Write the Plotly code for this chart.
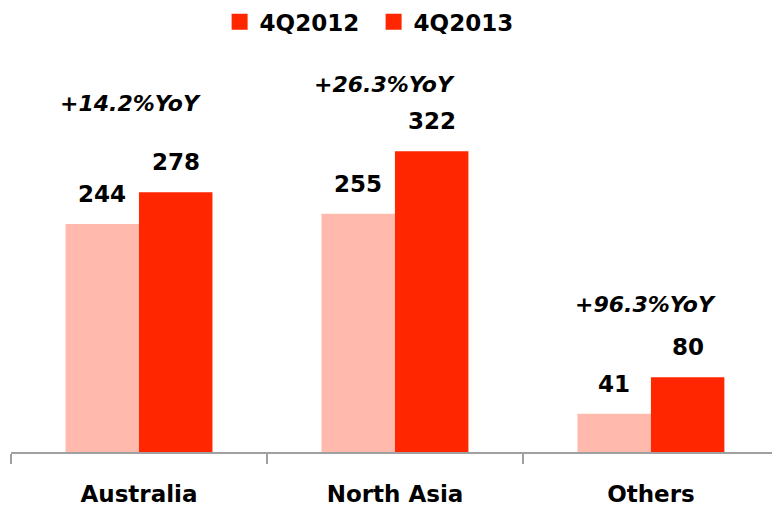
import plotly.graph_objects as go

regions = ["Australia", "North Asia", "Others"]
q2012 = [244, 255, 41]
q2013 = [278, 322, 80]
yoy_labels = ["+14.2%YoY", "+26.3%YoY", "+96.3%YoY"]
yoy_x = [-0.035, 0.96, 1.977]
yoy_y = [373, 394, 158]

PINK = "#FFBAAD"
RED = "#FF2600"
FONT = "DejaVu Sans"
BAR_HALF = 36.75  # pixel offset from category centre to each bar centre

fig = go.Figure()
fig.add_trace(go.Bar(x=regions, y=q2012, name="4Q2012", marker_color=PINK,
                     marker_line_width=0, showlegend=False))
fig.add_trace(go.Bar(x=regions, y=q2013, name="4Q2013", marker_color=RED,
                     marker_line_width=0, showlegend=False))

# legend entries, both drawn with the solid red swatch
for name in ["4Q2012", "4Q2013"]:
    fig.add_trace(go.Scatter(
        x=[None], y=[None], name=name, mode="markers",
        marker=dict(symbol="square", size=17, color=RED),
        xaxis="x2", yaxis="y2",
    ))

# value labels above each bar
for vals, shift in [(q2012, -BAR_HALF), (q2013, BAR_HALF)]:
    for cat, v in zip(regions, vals):
        fig.add_annotation(
            x=cat, y=v, text=f"<b>{v}</b>", showarrow=False,
            xshift=shift, yshift=15, yanchor="bottom",
            font=dict(size=23, color="black", family=FONT),
        )

# growth annotations
for lab, xx, yy in zip(yoy_labels, yoy_x, yoy_y):
    fig.add_annotation(
        x=xx, y=yy, text=f"<b><i>{lab}</i></b>", showarrow=False,
        font=dict(size=22, color="black", family=FONT),
    )

fig.update_layout(
    width=772, height=510,
    margin=dict(l=11, r=0, t=50, b=58),
    paper_bgcolor="white", plot_bgcolor="white",
    barmode="group", bargap=0.426, bargroupgap=0,
    font=dict(family=FONT, color="black"),
    showlegend=True,
    legend=dict(
        orientation="h", x=0.4765, xanchor="center", y=1.07, yanchor="middle",
        font=dict(size=23, family=FONT, color="black", weight="bold"),
        itemwidth=30, traceorder="normal", itemsizing="trace",
        entrywidth=109, entrywidthmode="pixels",
    ),
    xaxis=dict(
        range=[-0.5, 2.473], tickson="boundaries", ticks="outside", ticklen=10,
        tickcolor="#A0A0A0", tickwidth=2, showline=True, linecolor="#A0A0A0",
        linewidth=2, ticklabelstandoff=20,
        tickfont=dict(size=23, family=FONT, color="black", weight="bold"),
        showgrid=False, fixedrange=True,
    ),
    yaxis=dict(range=[0, 430.4], visible=False, showgrid=False, fixedrange=True),
    xaxis2=dict(visible=False, overlaying="x", fixedrange=True),
    yaxis2=dict(visible=False, overlaying="y", fixedrange=True),
)

fig.write_html("out.html")
